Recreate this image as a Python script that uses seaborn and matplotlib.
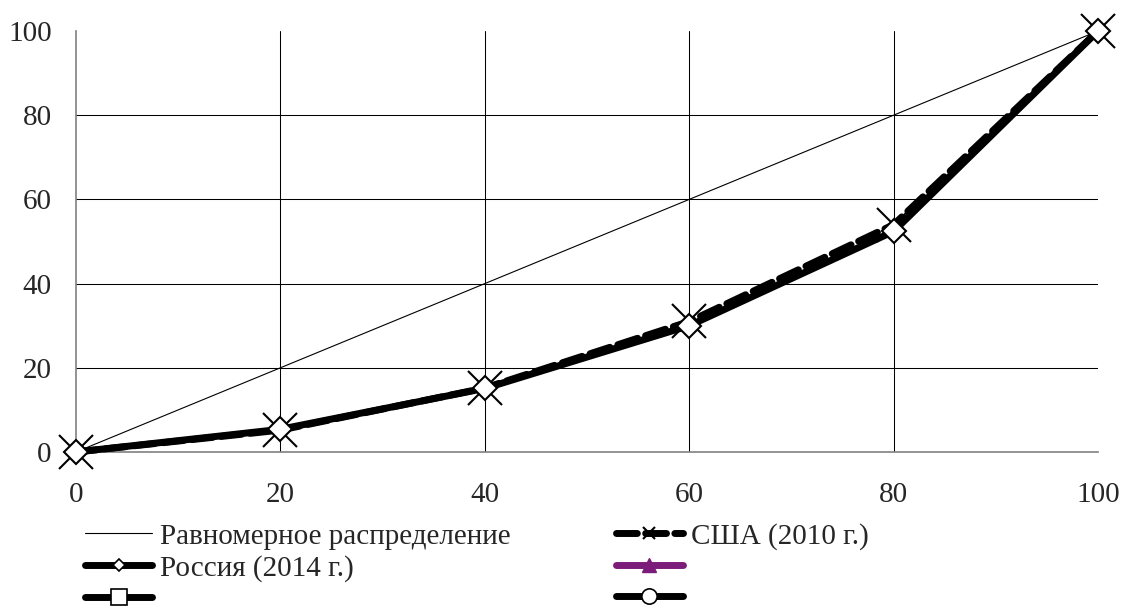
import matplotlib
matplotlib.use("Agg")
import matplotlib.pyplot as plt
from matplotlib.lines import Line2D
import pandas as pd
import seaborn as sns

# data
share_pop = [0, 20, 40, 60, 80, 100]
uniform = [0, 20, 40, 60, 80, 100]
usa_2010 = [0, 5.2, 15.2, 31.0, 54.0, 100]
russia_2014 = [0, 5.4, 15.1, 30.0, 52.4, 100]

label_uniform = "Равномерное распределение"
label_usa = "США (2010 г.)"
label_russia = "Россия (2014 г.)"

x_ticks = [0, 20, 40, 60, 80, 100]
y_ticks = [0, 20, 40, 60, 80, 100]
grid_ticks = [20, 40, 60, 80]

sns.set_style("white")
plt.rcParams['font.family'] = ['Liberation Serif', 'DejaVu Serif']
plt.rcParams['font.size'] = 21

df = pd.DataFrame({
    'x': share_pop,
    'uniform': uniform,
    'usa': usa_2010,
    'russia': russia_2014,
})

fig = plt.figure(figsize=(11.22, 6.08), dpi=100)
ax = fig.add_axes([76 / 1122, 1 - 452 / 608, (1098 - 76) / 1122, (452 - 31) / 608])

sns.lineplot(data=df, x='x', y='uniform', ax=ax, color='black', lw=0.8, zorder=3)
sns.lineplot(data=df, x='x', y='usa', ax=ax, color='black', lw=5, linestyle=(0, (3, 1.2)),
             dash_capstyle='round', marker='x', markersize=25, markeredgewidth=1.5,
             markeredgecolor='black', zorder=4, clip_on=False)
sns.lineplot(data=df, x='x', y='russia', ax=ax, color='black', lw=5, solid_capstyle='round',
             marker='D', markersize=12.5, markerfacecolor='white', markeredgecolor='black',
             markeredgewidth=1.5, zorder=5, clip_on=False)

ax.set_xlim(0, 100)
ax.set_ylim(0, 100)
ax.xaxis.remove_overlapping_locs = False
ax.yaxis.remove_overlapping_locs = False
ax.set_xticks(x_ticks)
ax.set_yticks(y_ticks)
ax.set_xticks(grid_ticks, minor=True)
ax.set_yticks(grid_ticks, minor=True)
ax.set_xlabel('')
ax.set_ylabel('')
for sp in ['top', 'right']:
    ax.spines[sp].set_visible(False)
for sp in ['left', 'bottom']:
    ax.spines[sp].set_color('#808080')
    ax.spines[sp].set_linewidth(1.2)
    ax.spines[sp].set_zorder(2)
ax.tick_params(axis='both', which='major', direction='out', length=6.5, width=1,
               color='#555555', labelsize=21)
ax.tick_params(axis='both', which='minor', length=0)
ax.tick_params(axis='x', which='major', pad=15)
ax.tick_params(axis='y', which='major', pad=11)

# grid only at the inner positions, like the source
ax.grid(False, which='major')
ax.grid(True, which='minor', color='black', linewidth=0.75)
ax.set_axisbelow(True)

# legend with proxy handles (two unnamed series in the source)
h_uniform = Line2D([], [], color='black', lw=0.8)
h_russia = Line2D([], [], color='black', lw=5, solid_capstyle='round', marker='D',
                  markersize=6, markerfacecolor='white', markeredgecolor='black', markeredgewidth=1.2)
h_square = Line2D([], [], color='black', lw=5, solid_capstyle='round', marker='s',
                  markersize=12, markerfacecolor='white', markeredgecolor='black', markeredgewidth=1.2)
h_usa = Line2D([], [], color='black', lw=5, linestyle=(0, (3, 1.2)), dash_capstyle='round',
               marker='x', markersize=9, markeredgewidth=1.5, markeredgecolor='black')
h_purple = Line2D([], [], color='#7b1c7b', lw=5, solid_capstyle='round', marker='^',
                  markersize=10, markeredgecolor='#7b1c7b')
h_circle = Line2D([], [], color='black', lw=5, solid_capstyle='round', marker='o',
                  markersize=11, markerfacecolor='white', markeredgecolor='black', markeredgewidth=1.2)

fig.legend([h_uniform, h_russia, h_square, h_usa, h_purple, h_circle],
           [label_uniform, label_russia, '', label_usa, '', ''],
           ncol=2, loc='upper left', bbox_to_anchor=(85 / 1122, 1 - 523 / 608),
           frameon=False, borderpad=0, borderaxespad=0, handlelength=2.3,
           handletextpad=0.27, labelspacing=0.17, columnspacing=3.6, fontsize=21)

fig.savefig('out.png', dpi=100)
